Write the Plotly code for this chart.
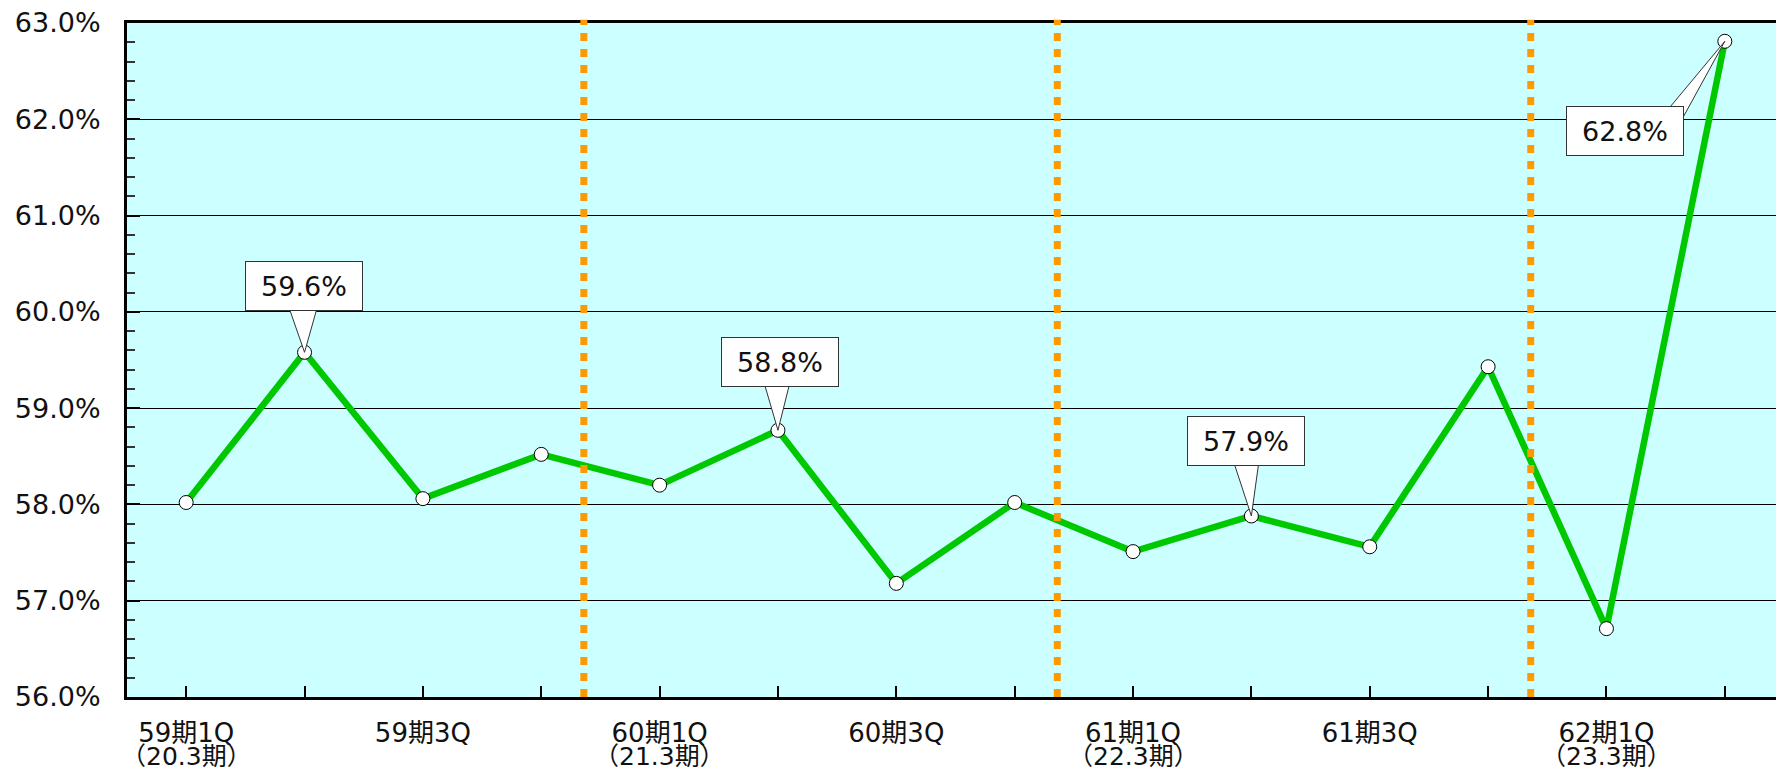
import plotly.graph_objects as go

# quarter labels (first line on the axis, fiscal-year note under it)
quarters = ["59期1Q", "59期2Q", "59期3Q", "59期4Q",
            "60期1Q", "60期2Q", "60期3Q", "60期4Q",
            "61期1Q", "61期2Q", "61期3Q", "61期4Q",
            "62期1Q", "62期2Q"]
tick_text = ["59期1Q", "", "59期3Q", "", "60期1Q", "", "60期3Q", "",
             "61期1Q", "", "61期3Q", "", "62期1Q", ""]
sub_text = ["（20.3期）", "", "", "", "（21.3期）", "", "", "",
            "（22.3期）", "", "", "", "（23.3期）", ""]

# ratio in %
ratio = [58.02, 59.58, 58.06, 58.52, 58.20, 58.77, 57.18,
         58.02, 57.51, 57.88, 57.56, 59.43, 56.71, 62.81]

# quarters that carry a callout label
labelled = [1, 5, 9, 13]

FONT = "DejaVu Sans, Noto Sans CJK JP"
x = list(range(len(quarters)))

fig = go.Figure()

# year separators
for xb in [3.36, 7.36, 11.36]:
    fig.add_shape(type="line", xref="x", yref="paper", x0=xb, x1=xb, y0=0, y1=1.005,
                  line=dict(color="#ff9900", width=7, dash="8px,8px"), layer="above")

fig.add_trace(go.Scatter(
    x=x, y=ratio, mode="lines+markers",
    line=dict(color="#00c800", width=6.5),
    marker=dict(size=14, color="white", line=dict(color="black", width=1)),
    hoverinfo="skip", showlegend=False))

# callouts: (xshift, yshift of box centre) and wedge base points, in pixels
callout = {
    1: ((-1, 66), [(-16, 46), (13, 46)]),
    5: ((2, 68), [(-14, 48), (12, 48)]),
    9: ((-5, 75), [(-19, 58), (8, 58)]),
    13: ((-100, -90), [(-60, -72), (-45, -82)]),
}
for i in labelled:
    (xs, ys), base = callout[i]
    (ax1, ay1), (ax2, ay2) = base
    fig.add_shape(type="path", xref="x", yref="y",
                  xsizemode="pixel", ysizemode="pixel",
                  xanchor=i, yanchor=ratio[i],
                  path=f"M {ax1},{ay1} L 0,0 L {ax2},{ay2} Z",
                  fillcolor="white", line=dict(color="#333333", width=1), layer="above")
    fig.add_annotation(x=i, y=ratio[i], text=f"{ratio[i]:.1f}%", showarrow=False,
                       xshift=xs, yshift=ys, bgcolor="white", bordercolor="#333333",
                       borderwidth=1, borderpad=6, width=104, height=36,
                       font=dict(family=FONT, size=27, color="#111111"))

# second line of the x labels
for i, s in enumerate(sub_text):
    if s:
        fig.add_annotation(x=i, y=0, xref="x", yref="paper", yanchor="top",
                           text=s, showarrow=False, yshift=-45,
                           height=27, borderpad=0,
                           font=dict(family=FONT, size=25, color="#111111"))

fig.update_xaxes(
    range=[-0.5, 13.5], tickmode="array", tickvals=x, ticktext=tick_text,
    ticks="inside", ticklen=11, tickwidth=2, tickcolor="black",
    showline=True, linecolor="black", linewidth=3, mirror=True,
    showgrid=False, zeroline=False, ticklabelstandoff=11,
    tickfont=dict(family=FONT, size=26, color="#111111"))
fig.update_yaxes(
    range=[56, 63], dtick=1, tickformat=".1f", ticksuffix="%",
    ticks="inside", ticklen=13, tickwidth=2, tickcolor="black",
    minor=dict(dtick=0.2, ticks="inside", ticklen=8, tickwidth=1.5, tickcolor="#333333",
               showgrid=False),
    showline=True, linecolor="black", linewidth=3,
    showgrid=True, gridcolor="black", gridwidth=1, zeroline=False,
    ticklabelstandoff=18, ticklabeloverflow="allow",
    tickfont=dict(family=FONT, size=27, color="#111111"))

# the page puts the figure 8px in from the corner
fig.update_layout(
    width=1776, height=764,
    margin=dict(l=119, r=0, t=15, b=75),
    plot_bgcolor="#ccffff", paper_bgcolor="white",
    font=dict(family=FONT))

fig.write_html("out.html")
